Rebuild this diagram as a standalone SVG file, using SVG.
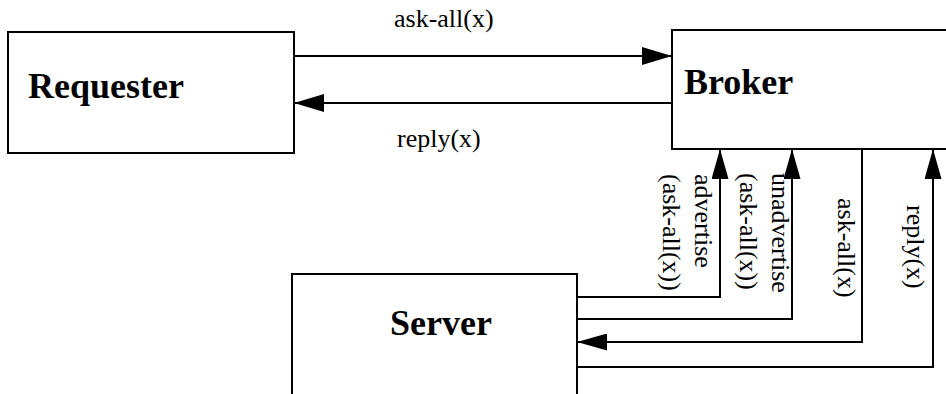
<svg xmlns="http://www.w3.org/2000/svg" width="946" height="394" viewBox="0 0 946 394">
<style>
.box{fill:#fff;stroke:#000;stroke-width:2}
.title{font-family:"Liberation Serif",serif;font-weight:bold;font-size:36px;fill:#000}
.lbl{font-family:"Liberation Serif",serif;font-size:26px;fill:#000}
.conn{fill:none;stroke:#000;stroke-width:2}
</style>
<defs>
<marker id="ah" markerUnits="userSpaceOnUse" markerWidth="30" markerHeight="18" refX="30" refY="9" orient="auto">
<path d="M0,0 L30,9 L0,18 z" fill="#000"/>
</marker>
<marker id="ahs" markerUnits="userSpaceOnUse" markerWidth="30" markerHeight="17" refX="30" refY="8.5" orient="auto">
<path d="M0,0 L30,8.5 L0,17 z" fill="#000"/>
</marker>
</defs>
<g id="requester">
<rect class="box" x="8" y="32" width="286" height="121"/>
<text class="title" x="28" y="98">Requester</text>
</g>
<g id="broker">
<rect class="box" x="672" y="30" width="290" height="119"/>
<text class="title" x="684" y="94">Broker</text>
</g>
<g id="server">
<rect class="box" x="292" y="274" width="285" height="140"/>
<text class="title" x="390" y="335">Server</text>
</g>
<g id="connectors">
<line class="conn" x1="294" y1="56" x2="672" y2="56" marker-end="url(#ah)"/>
<line class="conn" x1="672" y1="103" x2="294" y2="103" marker-end="url(#ah)"/>
<polyline class="conn" points="577,297 720,297 720,149" marker-end="url(#ahs)"/>
<polyline class="conn" points="577,319 792,319 792,149" marker-end="url(#ahs)"/>
<polyline class="conn" points="862,149 862,342 577,342" marker-end="url(#ahs)"/>
<polyline class="conn" points="577,367 933,367 933,149" marker-end="url(#ahs)"/>
</g>
<g id="labels">
<text class="lbl" x="394" y="27">ask-all(x)</text>
<text class="lbl" x="397" y="147">reply(x)</text>
<text class="lbl" transform="translate(695,174) rotate(90)">advertise</text>
<text class="lbl" transform="translate(663,174) rotate(90)">(ask-all(x))</text>
<text class="lbl" transform="translate(772,173) rotate(90)">unadvertise</text>
<text class="lbl" transform="translate(740,173) rotate(90)">(ask-all(x))</text>
<text class="lbl" transform="translate(838,198) rotate(90)">ask-all(x)</text>
<text class="lbl" transform="translate(907,205) rotate(90)">reply(x)</text>
</g>
</svg>
